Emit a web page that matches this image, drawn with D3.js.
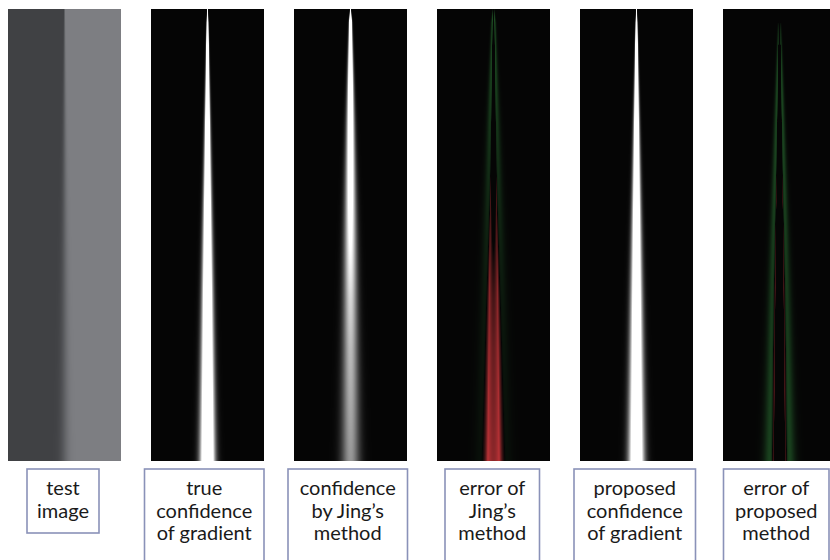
<!DOCTYPE html>
<html>
<head>
<meta charset="utf-8">
<script src="https://cdn.jsdelivr.net/npm/d3@7"></script>
<style>
  html, body { margin: 0; padding: 0; background: #fff; }
  svg { display: block; }
  .label { font-family: Lato, "Open Sans", sans-serif; font-size: 20px; fill: #1a1a1a; }
</style>
</head>
<body>
<script>
// Panel captions, one array of lines per panel
const captions = [
  ["test", "image"],
  ["true", "confidence", "of gradient"],
  ["confidence", "by Jing\u2019s", "method"],
  ["error of", "Jing\u2019s", "method"],
  ["proposed", "confidence", "of gradient"],
  ["error of", "proposed", "method"]
];

// Row positions (0 = top of panel, 1 = bottom) where the edge profile is sampled
const rowT = [0, 0.03, 0.25, 0.5, 0.64, 0.75, 1];

// Edge blur (px) of the test image and the true gradient confidence
const trueSigma = [0.25, 0.6, 1.7, 2.9, 3.5, 3.9, 4.8];
const trueGain  = [2, 2, 2, 2, 2, 2, 2];

// Confidence estimated by Jing's method
const jingSigma = [0.3, 0.95, 2.6, 4.1, 4.8, 5.3, 6.4];
const jingGain  = [2, 2, 1.45, 1.05, 0.84, 0.73, 0.58];

// Proposed confidence of gradient
const propSigma = [0.25, 0.6, 1.8, 3.1, 3.75, 4.2, 5.2];
const propGain  = [2, 2, 1.85, 1.75, 1.72, 1.7, 1.7];

// Grey levels either side of the step edge in the test image
const darkSide  = [64, 65, 68];
const lightSide = [125, 126, 130];

const W = 830, H = 560;
const panelW = 113, panelH = 452, panelTop = 9;

const svg = d3.select("body").append("svg")
  .attr("width", W).attr("height", H);

// Horizontal placement of the six panels and their caption boxes
const panelX = d3.scalePoint().domain(d3.range(6)).range([8, 723]);
const boxes = [
  [27, 99, 533], [144.5, 264, 563], [288, 407.5, 563],
  [445, 539.5, 563], [574, 695.5, 563], [723.5, 829, 563]
];

const sigmaT = d3.scaleLinear().domain(rowT).range(trueSigma).clamp(true);
const gainT  = d3.scaleLinear().domain(rowT).range(trueGain).clamp(true);
const sigmaJ = d3.scaleLinear().domain(rowT).range(jingSigma).clamp(true);
const gainJ  = d3.scaleLinear().domain(rowT).range(jingGain).clamp(true);
const sigmaP = d3.scaleLinear().domain(rowT).range(propSigma).clamp(true);
const gainP  = d3.scaleLinear().domain(rowT).range(propGain).clamp(true);
const rowScale = d3.scaleLinear().domain([0, panelH]).range([0, 1]);

function erf(x) {
  const s = Math.sign(x); x = Math.abs(x);
  const t = 1 / (1 + 0.3275911 * x);
  const y = 1 - (((((1.061405429 * t - 1.453152027) * t) + 1.421413741) * t - 0.284496736) * t + 0.254829592) * t * Math.exp(-x * x);
  return s * y;
}
const profile = (dx, g, s) => Math.min(1, g * Math.exp(-dx * dx / (2 * s * s)));

const centre = 56;
const BG = 5;
const redTint = [220, 55, 60], greenTint = [50, 150, 62];
// error display per error panel: [red gain, red gamma, green gain, green gamma]
const errScale = { errJing: [1.3, 0.8, 0.45, 0.6], errProp: [2.0, 0.6, 5.5, 0.6] };

function renderPanel(kind) {
  const cv = document.createElement("canvas");
  cv.width = panelW; cv.height = panelH;
  const ctx = cv.getContext("2d");
  const img = ctx.createImageData(panelW, panelH);
  for (let r = 0; r < panelH; r++) {
    const t = rowScale(r + 0.5);
    const sT = sigmaT(t), gT = gainT(t);
    for (let c = 0; c < panelW; c++) {
      const dx = c - centre;
      let R, G, B;
      if (kind === "test") {
        const f = 0.5 * (1 + erf(dx / (Math.SQRT2 * sT)));
        R = darkSide[0] + (lightSide[0] - darkSide[0]) * f;
        G = darkSide[1] + (lightSide[1] - darkSide[1]) * f;
        B = darkSide[2] + (lightSide[2] - darkSide[2]) * f;
      } else if (kind === "true" || kind === "jing" || kind === "prop") {
        const v = kind === "true" ? profile(dx, gT, sT)
                : kind === "jing" ? profile(dx, gainJ(t), sigmaJ(t))
                : profile(dx, gainP(t), sigmaP(t));
        R = G = B = BG + (255 - BG) * v;
      } else {
        const ref = profile(dx, gT, sT);
        const est = kind === "errJing" ? profile(dx, gainJ(t), sigmaJ(t))
                                       : profile(dx, gainP(t), sigmaP(t));
        const e = ref - est;
        const [kr, pr, kg, pg] = errScale[kind];
        const red = Math.min(1, Math.pow(Math.max(0, e) * kr, pr));
        const grn = Math.min(1, Math.pow(Math.max(0, -e) * kg, pg));
        R = BG + red * redTint[0] + grn * greenTint[0];
        G = BG + red * redTint[1] + grn * greenTint[1];
        B = BG + red * redTint[2] + grn * greenTint[2];
      }
      const i = (r * panelW + c) * 4;
      img.data[i] = R; img.data[i + 1] = G; img.data[i + 2] = B; img.data[i + 3] = 255;
    }
  }
  ctx.putImageData(img, 0, 0);
  return cv.toDataURL();
}

const kinds = ["test", "true", "jing", "errJing", "prop", "errProp"];

svg.selectAll("image.panel")
  .data(kinds)
  .join("image")
  .attr("class", "panel")
  .attr("x", (d, i) => panelX(i))
  .attr("y", panelTop)
  .attr("width", panelW)
  .attr("height", panelH)
  .attr("preserveAspectRatio", "none")
  .attr("href", d => renderPanel(d));

// Caption boxes
svg.selectAll("rect.box")
  .data(boxes)
  .join("rect")
  .attr("class", "box")
  .attr("x", d => d[0])
  .attr("y", 469)
  .attr("width", d => d[1] - d[0])
  .attr("height", d => d[2] - 469)
  .attr("fill", "#fff")
  .attr("stroke", "#8a92b8")
  .attr("stroke-width", 1.6);

const lineStep = 22.5, firstBaseline = 495;
const g = svg.selectAll("g.caption")
  .data(captions)
  .join("g")
  .attr("class", "caption")
  .attr("transform", (d, i) => `translate(${(boxes[i][0] + boxes[i][1]) / 2},0)`);

g.selectAll("text")
  .data(d => d)
  .join("text")
  .attr("class", "label")
  .attr("text-anchor", "middle")
  .attr("y", (d, j) => firstBaseline + j * lineStep)
  .text(d => d);
</script>
</body>
</html>
